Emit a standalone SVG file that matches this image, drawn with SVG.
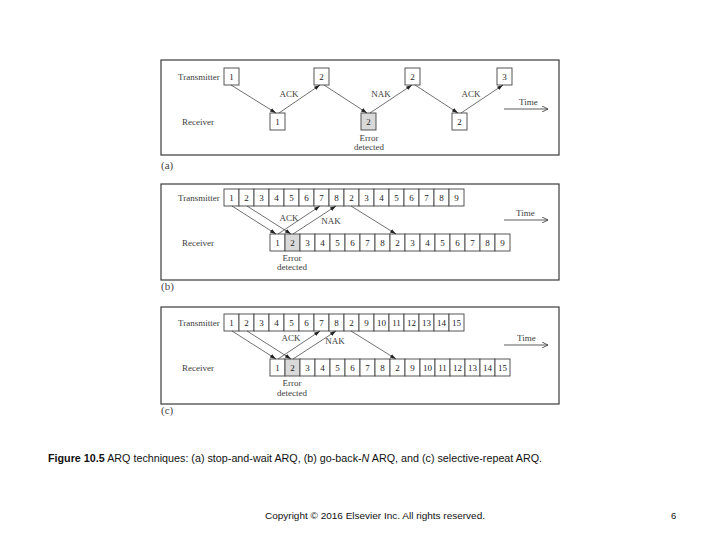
<svg xmlns="http://www.w3.org/2000/svg" width="720" height="540" viewBox="0 0 720 540">
<style>
.frame{fill:none;stroke:#3a3a3a;stroke-width:1.2}
.box{fill:#fff;stroke:#444;stroke-width:0.9}
.err{fill:#d9d9d9;stroke:#444;stroke-width:0.9}
.t{font-family:"Liberation Serif","DejaVu Serif",serif;font-size:9px;fill:#3c3c3c}
.n{font-family:"Liberation Serif","DejaVu Serif",serif;font-size:9px;fill:#222;text-anchor:middle}
.m{text-anchor:middle}
.lbl{font-family:"Liberation Serif","DejaVu Serif",serif;font-size:11px;fill:#444}
.ar{fill:none;stroke:#333;stroke-width:0.7;marker-end:url(#ah)}
.tm{fill:none;stroke:#333;stroke-width:0.8;marker-end:url(#oh)}
</style>
<defs>
<marker id="ah" viewBox="0 0 6 4" refX="6" refY="2" markerWidth="6" markerHeight="4" markerUnits="userSpaceOnUse" orient="auto"><path d="M0,0 L6,2 L0,4 z" fill="#222"/></marker>
<marker id="oh" viewBox="0 0 6 6" refX="6" refY="3" markerWidth="6" markerHeight="6" markerUnits="userSpaceOnUse" orient="auto"><path d="M0,0 L6,3 L0,6" fill="none" stroke="#333" stroke-width="0.8"/></marker>
</defs>
<rect width="720" height="540" fill="#fff"/>

<!-- Panel (a) -->
<g id="panel-a">
<rect class="frame" x="161" y="60" width="398" height="95"/>
<text class="t" x="178" y="80">Transmitter</text>
<text class="t" x="182" y="125">Receiver</text>
<g id="a-t1"><rect class="box" x="224" y="68" width="15" height="17"/><text class="n" x="231.5" y="80">1</text></g>
<g id="a-t2"><rect class="box" x="314" y="68" width="15" height="17"/><text class="n" x="321.5" y="80">2</text></g>
<g id="a-t2b"><rect class="box" x="405" y="68" width="15" height="17"/><text class="n" x="412.5" y="80">2</text></g>
<g id="a-t3"><rect class="box" x="497" y="68" width="15" height="17"/><text class="n" x="504.5" y="80">3</text></g>
<g id="a-r1"><rect class="box" x="270" y="113" width="15" height="17"/><text class="n" x="277.5" y="125">1</text></g>
<g id="a-r2"><rect class="err" x="361" y="113" width="15" height="17"/><text class="n" x="368.5" y="125">2</text></g>
<g id="a-r2b"><rect class="box" x="452" y="113" width="15" height="17"/><text class="n" x="459.5" y="125">2</text></g>
<text class="t m" x="289" y="97">ACK</text>
<text class="t m" x="381" y="97">NAK</text>
<text class="t m" x="471" y="97">ACK</text>
<text class="t m" x="369" y="141">Error</text>
<text class="t m" x="369" y="150">detected</text>
<text class="t" x="519" y="105">Time</text>
<text class="lbl" x="161" y="169">(a)</text>
</g>

<!-- Panel (b) -->
<g id="panel-b">
<rect class="frame" x="161" y="184" width="398" height="96"/>
<text class="t" x="178" y="201">Transmitter</text>
<text class="t" x="182" y="246">Receiver</text>
<g id="b-tx">
<rect class="box" x="224" y="189" width="15" height="17"/><text class="n" x="231.5" y="201">1</text>
<rect class="box" x="239" y="189" width="15" height="17"/><text class="n" x="246.5" y="201">2</text>
<rect class="box" x="254" y="189" width="15" height="17"/><text class="n" x="261.5" y="201">3</text>
<rect class="box" x="269" y="189" width="15" height="17"/><text class="n" x="276.5" y="201">4</text>
<rect class="box" x="284" y="189" width="15" height="17"/><text class="n" x="291.5" y="201">5</text>
<rect class="box" x="299" y="189" width="15" height="17"/><text class="n" x="306.5" y="201">6</text>
<rect class="box" x="314" y="189" width="15" height="17"/><text class="n" x="321.5" y="201">7</text>
<rect class="box" x="329" y="189" width="15" height="17"/><text class="n" x="336.5" y="201">8</text>
<rect class="box" x="344" y="189" width="15" height="17"/><text class="n" x="351.5" y="201">2</text>
<rect class="box" x="359" y="189" width="15" height="17"/><text class="n" x="366.5" y="201">3</text>
<rect class="box" x="374" y="189" width="15" height="17"/><text class="n" x="381.5" y="201">4</text>
<rect class="box" x="389" y="189" width="15" height="17"/><text class="n" x="396.5" y="201">5</text>
<rect class="box" x="404" y="189" width="15" height="17"/><text class="n" x="411.5" y="201">6</text>
<rect class="box" x="419" y="189" width="15" height="17"/><text class="n" x="426.5" y="201">7</text>
<rect class="box" x="434" y="189" width="15" height="17"/><text class="n" x="441.5" y="201">8</text>
<rect class="box" x="449" y="189" width="15" height="17"/><text class="n" x="456.5" y="201">9</text>
</g>
<g id="b-rx">
<rect class="box" x="270" y="234" width="15" height="17"/><text class="n" x="277.5" y="246">1</text>
<rect class="err" x="285" y="234" width="15" height="17"/><text class="n" x="292.5" y="246">2</text>
<rect class="box" x="300" y="234" width="15" height="17"/><text class="n" x="307.5" y="246">3</text>
<rect class="box" x="315" y="234" width="15" height="17"/><text class="n" x="322.5" y="246">4</text>
<rect class="box" x="330" y="234" width="15" height="17"/><text class="n" x="337.5" y="246">5</text>
<rect class="box" x="345" y="234" width="15" height="17"/><text class="n" x="352.5" y="246">6</text>
<rect class="box" x="360" y="234" width="15" height="17"/><text class="n" x="367.5" y="246">7</text>
<rect class="box" x="375" y="234" width="15" height="17"/><text class="n" x="382.5" y="246">8</text>
<rect class="box" x="390" y="234" width="15" height="17"/><text class="n" x="397.5" y="246">2</text>
<rect class="box" x="405" y="234" width="15" height="17"/><text class="n" x="412.5" y="246">3</text>
<rect class="box" x="420" y="234" width="15" height="17"/><text class="n" x="427.5" y="246">4</text>
<rect class="box" x="435" y="234" width="15" height="17"/><text class="n" x="442.5" y="246">5</text>
<rect class="box" x="450" y="234" width="15" height="17"/><text class="n" x="457.5" y="246">6</text>
<rect class="box" x="465" y="234" width="15" height="17"/><text class="n" x="472.5" y="246">7</text>
<rect class="box" x="480" y="234" width="15" height="17"/><text class="n" x="487.5" y="246">8</text>
<rect class="box" x="495" y="234" width="15" height="17"/><text class="n" x="502.5" y="246">9</text>
</g>
<text class="t m" x="289" y="221">ACK</text>
<text class="t m" x="331" y="224">NAK</text>
<text class="t m" x="292" y="261">Error</text>
<text class="t m" x="292" y="270">detected</text>
<text class="t" x="516" y="216">Time</text>
<text class="lbl" x="161" y="290">(b)</text>
</g>

<!-- Panel (c) -->
<g id="panel-c">
<rect class="frame" x="161" y="307" width="398" height="97"/>
<text class="t" x="178" y="326">Transmitter</text>
<text class="t" x="182" y="371">Receiver</text>
<g id="c-tx">
<rect class="box" x="224" y="314" width="15" height="17"/><text class="n" x="231.5" y="326">1</text>
<rect class="box" x="239" y="314" width="15" height="17"/><text class="n" x="246.5" y="326">2</text>
<rect class="box" x="254" y="314" width="15" height="17"/><text class="n" x="261.5" y="326">3</text>
<rect class="box" x="269" y="314" width="15" height="17"/><text class="n" x="276.5" y="326">4</text>
<rect class="box" x="284" y="314" width="15" height="17"/><text class="n" x="291.5" y="326">5</text>
<rect class="box" x="299" y="314" width="15" height="17"/><text class="n" x="306.5" y="326">6</text>
<rect class="box" x="314" y="314" width="15" height="17"/><text class="n" x="321.5" y="326">7</text>
<rect class="box" x="329" y="314" width="15" height="17"/><text class="n" x="336.5" y="326">8</text>
<rect class="box" x="344" y="314" width="15" height="17"/><text class="n" x="351.5" y="326">2</text>
<rect class="box" x="359" y="314" width="15" height="17"/><text class="n" x="366.5" y="326">9</text>
<rect class="box" x="374" y="314" width="15" height="17"/><text class="n" x="381.5" y="326">10</text>
<rect class="box" x="389" y="314" width="15" height="17"/><text class="n" x="396.5" y="326">11</text>
<rect class="box" x="404" y="314" width="15" height="17"/><text class="n" x="411.5" y="326">12</text>
<rect class="box" x="419" y="314" width="15" height="17"/><text class="n" x="426.5" y="326">13</text>
<rect class="box" x="434" y="314" width="15" height="17"/><text class="n" x="441.5" y="326">14</text>
<rect class="box" x="449" y="314" width="15" height="17"/><text class="n" x="456.5" y="326">15</text>
</g>
<g id="c-rx">
<rect class="box" x="270" y="359" width="15" height="17"/><text class="n" x="277.5" y="371">1</text>
<rect class="err" x="285" y="359" width="15" height="17"/><text class="n" x="292.5" y="371">2</text>
<rect class="box" x="300" y="359" width="15" height="17"/><text class="n" x="307.5" y="371">3</text>
<rect class="box" x="315" y="359" width="15" height="17"/><text class="n" x="322.5" y="371">4</text>
<rect class="box" x="330" y="359" width="15" height="17"/><text class="n" x="337.5" y="371">5</text>
<rect class="box" x="345" y="359" width="15" height="17"/><text class="n" x="352.5" y="371">6</text>
<rect class="box" x="360" y="359" width="15" height="17"/><text class="n" x="367.5" y="371">7</text>
<rect class="box" x="375" y="359" width="15" height="17"/><text class="n" x="382.5" y="371">8</text>
<rect class="box" x="390" y="359" width="15" height="17"/><text class="n" x="397.5" y="371">2</text>
<rect class="box" x="405" y="359" width="15" height="17"/><text class="n" x="412.5" y="371">9</text>
<rect class="box" x="420" y="359" width="15" height="17"/><text class="n" x="427.5" y="371">10</text>
<rect class="box" x="435" y="359" width="15" height="17"/><text class="n" x="442.5" y="371">11</text>
<rect class="box" x="450" y="359" width="15" height="17"/><text class="n" x="457.5" y="371">12</text>
<rect class="box" x="465" y="359" width="15" height="17"/><text class="n" x="472.5" y="371">13</text>
<rect class="box" x="480" y="359" width="15" height="17"/><text class="n" x="487.5" y="371">14</text>
<rect class="box" x="495" y="359" width="15" height="17"/><text class="n" x="502.5" y="371">15</text>
</g>
<text class="t m" x="291" y="341">ACK</text>
<text class="t m" x="335" y="344">NAK</text>
<text class="t m" x="292" y="386">Error</text>
<text class="t m" x="292" y="396">detected</text>
<text class="t" x="517" y="341">Time</text>
<text class="lbl" x="161" y="414">(c)</text>
</g>

<g id="connectors">
<line class="ar" x1="231" y1="85" x2="276" y2="113"/>
<line class="ar" x1="279" y1="113" x2="320" y2="85"/>
<line class="ar" x1="324" y1="85" x2="367" y2="113"/>
<line class="ar" x1="370" y1="113" x2="412" y2="85"/>
<line class="ar" x1="415" y1="85" x2="458" y2="113"/>
<line class="ar" x1="461" y1="113" x2="503" y2="85"/>
<line class="tm" x1="504" y1="109" x2="548" y2="109"/>

<line class="ar" x1="232" y1="206" x2="276" y2="234"/>
<line class="ar" x1="247" y1="206" x2="291" y2="234"/>
<line class="ar" x1="278" y1="234" x2="320" y2="206"/>
<line class="ar" x1="293" y1="234" x2="336" y2="206"/>
<line class="ar" x1="351" y1="206" x2="396" y2="234"/>
<line class="tm" x1="504" y1="220" x2="548" y2="220"/>

<line class="ar" x1="232" y1="331" x2="276" y2="359"/>
<line class="ar" x1="247" y1="331" x2="291" y2="359"/>
<line class="ar" x1="278" y1="359" x2="320" y2="331"/>
<line class="ar" x1="293" y1="359" x2="336" y2="331"/>
<line class="ar" x1="351" y1="331" x2="396" y2="359"/>
<line class="tm" x1="504" y1="345" x2="548" y2="345"/>
</g>

<text x="48" y="462" font-family="'Liberation Sans',Arial,sans-serif" font-size="10.5" fill="#111" textLength="494" lengthAdjust="spacingAndGlyphs"><tspan font-weight="bold">Figure 10.5</tspan> ARQ techniques: (a) stop-and-wait ARQ, (b) go-back-<tspan font-style="italic">N</tspan> ARQ, and (c) selective-repeat ARQ.</text>
<text x="265" y="519" font-family="'Liberation Sans',Arial,sans-serif" font-size="9.5" fill="#111" textLength="220" lengthAdjust="spacingAndGlyphs">Copyright © 2016 Elsevier Inc. All rights reserved.</text>
<text x="671" y="519" font-family="'Liberation Sans',Arial,sans-serif" font-size="9.5" fill="#111">6</text>
</svg>
